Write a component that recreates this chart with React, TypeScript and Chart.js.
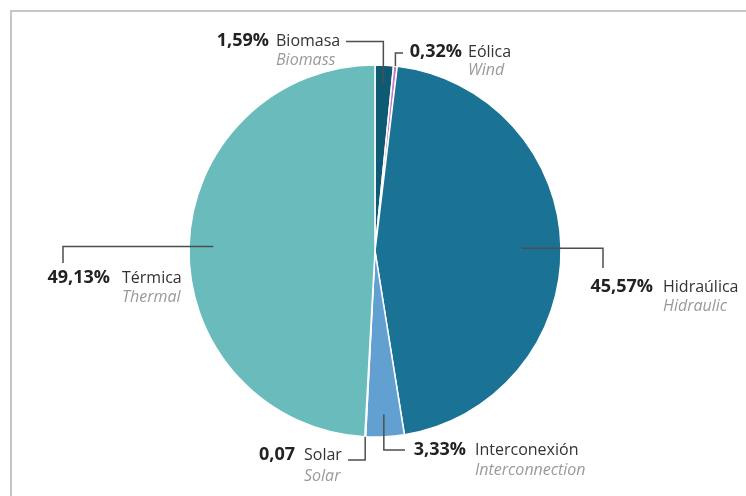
import React, { useEffect, useRef } from "react";
import { Chart, registerables } from "chart.js";

Chart.register(...registerables);

// Electricity generation mix by source
const sources = ["Biomasa", "Eólica", "Hidraúlica", "Interconexión", "Solar", "Térmica"];
const sourcesEn = ["Biomass", "Wind", "Hidraulic", "Interconnection", "Solar", "Thermal"];
const shares = [1.59, 0.32, 45.57, 3.33, 0.07, 49.13];
const shareSuffix = ["%", "%", "%", "%", "", "%"];
const sliceColors = ["#0d5a72", "#c77bbd", "#1a7294", "#62a0d2", "#f3b39c", "#69bcbb"];

type Callout = {
  rFrac: number;
  mode: "v" | "h";
  elbow: number;
  end: number;
  nameX: number;
  gap: number;
  y1: number;
  y2: number;
};

// Leader line routing and label placement for each slice
const callouts: Callout[] = [
  { rFrac: 0.9, mode: "v", elbow: 41.5, end: 346, nameX: 276, gap: 7, y1: 41, y2: 60 },
  { rFrac: 1.0, mode: "v", elbow: 53, end: 403, nameX: 468, gap: 6, y1: 52, y2: 70 },
  { rFrac: 0.79, mode: "h", elbow: 603, end: 268, nameX: 663, gap: 10, y1: 287, y2: 306 },
  { rFrac: 0.88, mode: "v", elbow: 450, end: 405, nameX: 475, gap: 9, y1: 450, y2: 470 },
  { rFrac: 1.0, mode: "v", elbow: 460, end: 348, nameX: 304, gap: 9, y1: 455, y2: 476 },
  { rFrac: 0.87, mode: "h", elbow: 63, end: 263, nameX: 122, gap: 12, y1: 278, y2: 297 },
];

const FONT = "'Open Sans', sans-serif";

const calloutPlugin = {
  id: "callouts",
  afterDraw(chart: any) {
    const ctx = chart.ctx as CanvasRenderingContext2D;
    const arcs = chart.getDatasetMeta(0).data;
    ctx.save();
    arcs.forEach((arc: any, i: number) => {
      const c = callouts[i];
      const { x, y, startAngle, endAngle, outerRadius } = arc.getProps(
        ["x", "y", "startAngle", "endAngle", "outerRadius"],
        true
      );
      const mid = (startAngle + endAngle) / 2;
      const ax = x + Math.cos(mid) * outerRadius * c.rFrac;
      const ay = y + Math.sin(mid) * outerRadius * c.rFrac;

      ctx.strokeStyle = "#4e4e4e";
      ctx.lineWidth = 1.5;
      ctx.beginPath();
      ctx.moveTo(ax, ay);
      if (c.mode === "v") {
        ctx.lineTo(ax, c.elbow);
        ctx.lineTo(c.end, c.elbow);
      } else {
        ctx.lineTo(c.elbow, ay);
        ctx.lineTo(c.elbow, c.end);
      }
      ctx.stroke();

      const pct = shares[i].toFixed(2).replace(".", ",") + shareSuffix[i];
      ctx.textBaseline = "middle";

      ctx.font = `bold 18px ${FONT}`;
      ctx.fillStyle = "#222222";
      ctx.textAlign = "right";
      ctx.fillText(pct, c.nameX - c.gap, c.y1);

      ctx.font = `16px ${FONT}`;
      ctx.fillStyle = "#333333";
      ctx.textAlign = "left";
      ctx.fillText(sources[i], c.nameX, c.y1);

      ctx.font = `italic 16px ${FONT}`;
      ctx.fillStyle = "#9a9a9a";
      ctx.fillText(sourcesEn[i], c.nameX, c.y2);
    });
    ctx.restore();
  },
};

export default function App() {
  const canvasRef = useRef<HTMLCanvasElement | null>(null);

  useEffect(() => {
    document.body.style.margin = "0";
    const canvas = canvasRef.current;
    if (!canvas) return;
    const chart = new Chart(canvas, {
      type: "pie",
      data: {
        labels: sources,
        datasets: [
          {
            data: shares,
            backgroundColor: sliceColors,
            borderColor: "#ffffff",
            borderWidth: 1.5,
            radius: 186,
          } as any,
        ],
      },
      options: {
        responsive: false,
        animation: false,
        layout: { padding: { left: 4, right: 0, top: 6, bottom: 0 } },
        plugins: {
          legend: { display: false },
          tooltip: { enabled: false },
          title: { display: false },
        },
      },
      plugins: [calloutPlugin],
    });
    return () => chart.destroy();
  }, []);

  return (
    <div style={{ position: "relative", width: 746, height: 496, background: "#ffffff", overflow: "hidden" }}>
      <div
        style={{
          position: "absolute",
          left: 10,
          top: 10,
          right: 0,
          bottom: 0,
          borderLeft: "2px solid #c6c6c6",
          borderTop: "2px solid #c6c6c6",
        }}
      />
      <canvas ref={canvasRef} width={746} height={496} style={{ position: "absolute", left: 0, top: 0 }} />
    </div>
  );
}
